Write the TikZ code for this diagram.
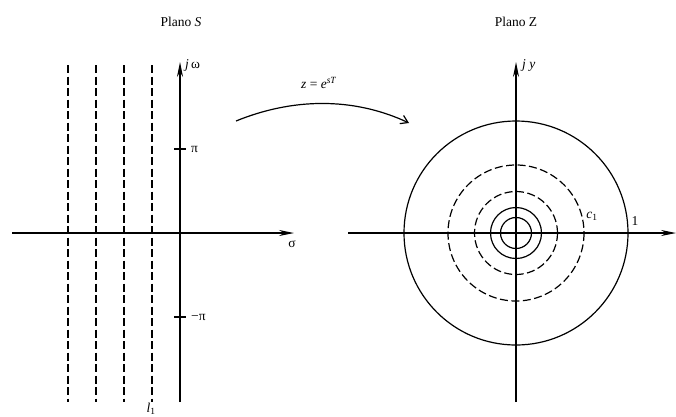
\documentclass[tikz,border=0pt]{standalone}
\usepackage{fontspec}
\setmainfont{Liberation Serif}
\usetikzlibrary{arrows.meta}
\tikzset{
  axis/.style={line width=1.2pt, -{Stealth[length=15pt,width=6pt]}},
  strip/.style={line width=1.2pt, dash pattern=on 8pt off 3.5pt},
  ring/.style={line width=1.2pt},
  lbl/.style={inner sep=1pt}
}
\begin{document}
\begin{tikzpicture}[x=1pt, y=-1pt, font=\fontsize{13.5}{15}\selectfont]
  \useasboundingbox (0,0) rectangle (676,416);

  % Plano S
  \node[lbl] (titleS) at (181,22) {Plano \textit{S}};
  \coordinate (SO) at (180,233);
  \coordinate (Sleft) at (12,233);
  \coordinate (Sright) at (294,233);
  \coordinate (Sbot) at (180,402);
  \coordinate (Stop) at (180,62);
  \draw[axis] (Sleft) -- (Sright);
  \draw[axis] (Sbot) -- (Stop);
  \node[lbl, right] (jw) at (184,65) {\textit{j}\,ω};
  \node[lbl] (sigma) at (292,244) {σ};

  % ticks at +pi and -pi
  \draw[ring] (174,149) coordinate (tp) -- (186,149);
  \draw[ring] (174,317) coordinate (tm) -- (186,317);
  \node[lbl, right] (pi) at (190,149) {π};
  \node[lbl, right] (mpi) at (190,317) {−π};

  % lines of constant sigma
  \foreach \x in {68,96,124,152}
    \draw[strip] (\x,65) -- (\x,402);
  \node[lbl] (l1) at (151,409) {\textit{l}\textsubscript{1}};

  % mapping arrow
  \coordinate (mapA) at (236,121);
  \coordinate (mapB) at (409,123);
  \draw[line width=1.2pt, -{Straight Barb[length=7pt,width=9pt]}]
    (mapA) .. controls (300,95) and (360,100) .. (mapB);
  \node[lbl] (map) at (319,83) {\textit{z} = \textit{e}\textsuperscript{\textit{sT}}};

  % Plano Z
  \node[lbl] (titleZ) at (516,22) {Plano Z};
  \coordinate (ZO) at (516,233);
  \coordinate (Zleft) at (348,233);
  \coordinate (Zright) at (676,233);
  \coordinate (Zbot) at (516,402);
  \coordinate (Ztop) at (516,62);
  \draw[axis] (Zleft) -- (Zright);
  \draw[axis] (Zbot) -- (Ztop);
  \node[lbl, right] (jy) at (521,65) {\textit{j y}};

  % circles
  \draw[ring] (ZO) circle (112);
  \draw[strip] (ZO) circle (68);
  \draw[strip] (ZO) circle (41.5);
  \draw[ring] (ZO) circle (25.5);
  \draw[ring] (ZO) circle (15.5);
  \node[lbl] (c1) at (592,216) {\textit{c}\textsubscript{1}};
  \node[lbl] (one) at (635,221) {1};
\end{tikzpicture}
\end{document}
